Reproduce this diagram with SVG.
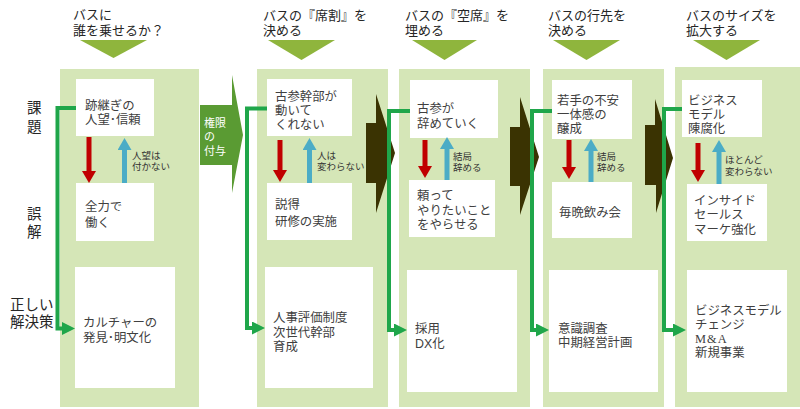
<svg xmlns="http://www.w3.org/2000/svg" width="800" height="409" viewBox="0 0 800 409">
<defs>
<style>
text{font-family:"Liberation Sans","Noto Sans CJK JP",sans-serif;}
.panel{fill:#d5e6b7;}
.box{fill:#ffffff;}
.tri{fill:#8fb53d;}
.title{font-size:13px;fill:#262626;}
.bt{font-size:12.4px;fill:#404040;}
.ser{font-family:"Liberation Serif","Noto Sans CJK JP",serif;}
.lab{font-size:9.5px;fill:#333333;}
.side{font-size:14.5px;fill:#262626;}
.dark{fill:#3a3302;}
.conn{fill:none;stroke:#1fa64a;stroke-width:4;marker-end:url(#gh);}
.red{stroke:#c00000;stroke-width:5;marker-end:url(#rh);}
.blue{stroke:#4bacc6;stroke-width:5;marker-end:url(#bh);}
</style>
<marker id="gh" viewBox="0 0 13 13" refX="1" refY="6.5" markerWidth="13" markerHeight="13" markerUnits="userSpaceOnUse" orient="auto"><path d="M0,0 L13,6.5 L0,13 z" fill="#1fa64a"/></marker>
<marker id="rh" viewBox="0 0 12 14" refX="1" refY="7" markerWidth="12" markerHeight="14" markerUnits="userSpaceOnUse" orient="auto"><path d="M0,0 L12,7 L0,14 z" fill="#c00000"/></marker>
<marker id="bh" viewBox="0 0 12 14" refX="1" refY="7" markerWidth="12" markerHeight="14" markerUnits="userSpaceOnUse" orient="auto"><path d="M0,0 L12,7 L0,14 z" fill="#4bacc6"/></marker>
</defs>
<rect width="800" height="409" fill="#ffffff"/>

<g id="side-labels">
<text class="side" x="27" y="113">課</text>
<text class="side" x="27" y="132">題</text>
<text class="side" x="27" y="219">誤</text>
<text class="side" x="27" y="237">解</text>
<text class="side" x="10" y="310">正しい</text>
<text class="side" x="10" y="327">解決策</text>
</g>

<g id="panels">
<rect class="panel" x="60" y="69" width="139" height="338"/>
<rect class="panel" x="257" y="69" width="131" height="338"/>
<rect class="panel" x="399" y="69" width="131" height="338"/>
<rect class="panel" x="543" y="69" width="121" height="338"/>
<rect class="panel" x="675" y="67" width="125" height="340"/>
</g>

<g id="titles">
<text class="title" x="73" y="19">バスに</text>
<text class="title" x="73" y="35">誰を乗せるか？</text>
<polygon class="tri" points="80,40 147,40 113.5,58"/>
<text class="title" x="263" y="20">バスの『席割』を</text>
<text class="title" x="263" y="35">決める</text>
<polygon class="tri" points="268,40 335,40 301.5,60"/>
<text class="title" x="405" y="20">バスの『空席』を</text>
<text class="title" x="405" y="35">埋める</text>
<polygon class="tri" points="412,40 477,40 444.5,60"/>
<text class="title" x="548" y="20">バスの行先を</text>
<text class="title" x="548" y="35">決める</text>
<polygon class="tri" points="553,40 620,40 586.5,60"/>
<text class="title" x="686" y="20">バスのサイズを</text>
<text class="title" x="686" y="35">拡大する</text>
<polygon class="tri" points="693,40 760,40 726.5,60"/>
</g>

<g id="block-arrows">
<g id="grant-arrow">
<polygon points="200,105 232,105 232,75 243,135 232,193 232,165 200,165" fill="#5a9b33"/>
<text x="204" y="127" font-size="11" fill="#ffffff">権限</text>
<text x="204" y="141" font-size="11" fill="#ffffff">の</text>
<text x="204" y="155" font-size="11" fill="#ffffff">付与</text>
</g>
<polygon id="dark-arrow-1" class="dark" points="366,123 376,123 376,94 395,153 376,213 376,183 366,183"/>
<polygon id="dark-arrow-2" class="dark" points="510,127 520,127 520,97 539,157 520,215 520,186 510,186"/>
<polygon id="dark-arrow-3" class="dark" points="645,125 655,125 655,99 673,158 656,213 656,185 645,185"/>
</g>

<g id="col1-problem"><rect class="box" x="76" y="79" width="78" height="57"/>
<text class="bt" x="85" y="110">跡継ぎの</text><text class="bt" x="85" y="124">人望･信頼</text></g>
<g id="col1-mistake"><rect class="box" x="76" y="183" width="78" height="58"/>
<text class="bt" x="85" y="211">全力で</text><text class="bt" x="85" y="227">働く</text></g>
<g id="col1-solution"><rect class="box" x="75" y="267" width="100" height="121"/>
<text class="bt" x="83" y="327">カルチャーの</text><text class="bt" x="83" y="342">発見･明文化</text></g>

<g id="col2-problem"><rect class="box" x="267" y="79" width="85" height="57"/>
<text class="bt" x="275" y="101">古参幹部が</text><text class="bt" x="275" y="115">動いて</text><text class="bt" x="275" y="129">くれない</text></g>
<g id="col2-mistake"><rect class="box" x="267" y="183" width="85" height="57"/>
<text class="bt" x="275" y="209">説得</text><text class="bt" x="275" y="226">研修の実施</text></g>
<g id="col2-solution"><rect class="box" x="265" y="267" width="108" height="121"/>
<text class="bt" x="273" y="322">人事評価制度</text><text class="bt" x="273" y="337">次世代幹部</text><text class="bt" x="273" y="351">育成</text></g>

<g id="col3-problem"><rect class="box" x="410" y="80" width="88" height="58"/>
<text class="bt" x="417" y="113">古参が</text><text class="bt" x="417" y="128">辞めていく</text></g>
<g id="col3-mistake"><rect class="box" x="409" y="180" width="86" height="57"/>
<text class="bt" x="417" y="200">頼って</text><text class="bt" x="417" y="215">やりたいこと</text><text class="bt" x="417" y="229">をやらせる</text></g>
<g id="col3-solution"><rect class="box" x="407" y="270" width="110" height="122"/>
<text class="bt" x="415" y="333">採用</text><text class="bt" x="415" y="348">DX化</text></g>

<g id="col4-problem"><rect class="box" x="552" y="80" width="80" height="59"/>
<text class="bt" x="557" y="105">若手の不安</text><text class="bt" x="557" y="119">一体感の</text><text class="bt" x="557" y="133">醸成</text></g>
<g id="col4-mistake"><rect class="box" x="552" y="182" width="80" height="56"/>
<text class="bt" x="559" y="217">毎晩飲み会</text></g>
<g id="col4-solution"><rect class="box" x="549" y="270" width="109" height="122"/>
<text class="bt" x="558" y="333">意識調査</text><text class="bt" x="558" y="347">中期経営計画</text></g>

<g id="col5-problem"><rect class="box" x="682" y="80" width="80" height="57"/>
<text class="bt" x="688" y="105">ビジネス</text><text class="bt" x="688" y="119">モデル</text><text class="bt" x="688" y="133">陳腐化</text></g>
<g id="col5-mistake"><rect class="box" x="687" y="184" width="80" height="57"/>
<text class="bt" x="694" y="205">インサイド</text><text class="bt" x="694" y="219">セールス</text><text class="bt" x="694" y="234">マーケ強化</text></g>
<g id="col5-solution"><rect class="box" x="687" y="270" width="100" height="122"/>
<text class="bt" x="695" y="315">ビジネスモデル</text><text class="bt" x="695" y="329">チェンジ</text><text class="bt ser" x="695" y="343" letter-spacing="1">M&amp;A</text><text class="bt" x="695" y="357">新規事業</text></g>

<g id="connectors">
<path class="conn" d="M76,108 H57.5 V328.5 H63"/>
<path class="conn" d="M267,108.5 H247 V328 H253"/>
<path class="conn" d="M410,111 H389 V330 H395"/>
<path class="conn" d="M552,111 H532 V330 H537"/>
<path class="conn" d="M682,109 H664 V330 H674"/>

<line class="red" x1="89" y1="137" x2="89" y2="172"/>
<line class="blue" x1="124.5" y1="183" x2="124.5" y2="149"/>
<line class="red" x1="280" y1="140" x2="280" y2="171"/>
<line class="blue" x1="309.5" y1="183" x2="309.5" y2="149"/>
<line class="red" x1="425" y1="140" x2="425" y2="167"/>
<line class="blue" x1="447" y1="180" x2="447" y2="148"/>
<line class="red" x1="569" y1="140" x2="569" y2="168"/>
<line class="blue" x1="591" y1="182" x2="591" y2="150"/>
<line class="red" x1="698" y1="143" x2="698" y2="171"/>
<line class="blue" x1="719" y1="184" x2="719" y2="151"/>

<text class="lab" x="132" y="159">人望は</text><text class="lab" x="132" y="170">付かない</text>
<text class="lab" x="317" y="159">人は</text><text class="lab" x="317" y="170">変わらない</text>
<text class="lab" x="453" y="160">結局</text><text class="lab" x="453" y="171">辞める</text>
<text class="lab" x="597" y="160">結局</text><text class="lab" x="597" y="171">辞める</text>
<text class="lab" x="725" y="163">ほとんど</text><text class="lab" x="725" y="175">変わらない</text>
</g>
</svg>
